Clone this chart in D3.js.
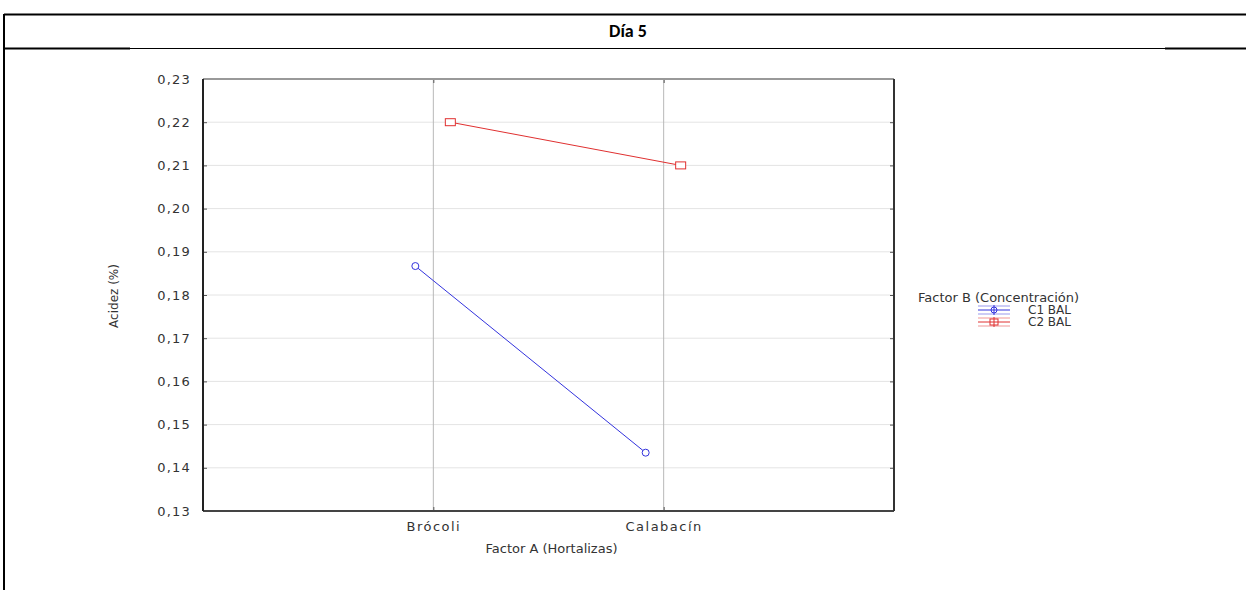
<!DOCTYPE html>
<html>
<head>
<meta charset="utf-8">
<script src="https://cdn.jsdelivr.net/npm/d3@7"></script>
<style>
  body { margin: 0; background: #fff; }
  svg { display: block; }
</style>
</head>
<body>
<svg></svg>
<script>
const width = 1246;
const height = 590;

// datos
const categories = ["Brócoli", "Calabacín"];
const seriesNames = ["C1 BAL", "C2 BAL"];
const c1Values = [0.1867, 0.1435];
const c2Values = [0.220, 0.210];
const yTicks = [0.13, 0.14, 0.15, 0.16, 0.17, 0.18, 0.19, 0.20, 0.21, 0.22, 0.23];
const colors = ["#3333dd", "#e03030"];

const plot = { left: 203, top: 79, right: 894, bottom: 511 };
const font = "'DejaVu Sans', Verdana, sans-serif";

let svg = d3.select("svg")
    .attr("width", width)
    .attr("height", height);

// marco de la tabla
svg.append("line").attr("x1", 4).attr("x2", width).attr("y1", 14.5).attr("y2", 14.5)
    .attr("stroke", "#000").attr("stroke-width", 2);
svg.append("line").attr("x1", 4).attr("x2", 4).attr("y1", 14).attr("y2", height)
    .attr("stroke", "#000").attr("stroke-width", 2);
svg.append("line").attr("x1", 4).attr("x2", 130).attr("y1", 48.5).attr("y2", 48.5)
    .attr("stroke", "#000").attr("stroke-width", 2);
svg.append("line").attr("x1", 130).attr("x2", 1165).attr("y1", 48.5).attr("y2", 48.5)
    .attr("stroke", "#000").attr("stroke-width", 1);
svg.append("line").attr("x1", 1165).attr("x2", width).attr("y1", 48.5).attr("y2", 48.5)
    .attr("stroke", "#000").attr("stroke-width", 2);

svg.append("text")
    .attr("x", 628).attr("y", 37)
    .attr("text-anchor", "middle")
    .style("font-family", "Calibri, Carlito, 'Open Sans', sans-serif")
    .style("font-weight", "bold")
    .style("font-size", "18px")
    .text("Día 5");

// escalas
let scaleX = d3.scalePoint()
    .domain(categories)
    .range([plot.left, plot.right])
    .padding(1);
let scaleY = d3.scaleLinear()
    .domain([0.13, 0.23])
    .range([plot.bottom, plot.top]);

const fmt = d => d3.format(".2f")(d).replace(".", ",");

// rejilla
svg.append("g")
    .selectAll("line")
    .data(yTicks.slice(1, -1))
    .enter()
    .append("line")
    .attr("x1", plot.left).attr("x2", plot.right)
    .attr("y1", d => scaleY(d)).attr("y2", d => scaleY(d))
    .attr("stroke", "#e4e4e4");
svg.append("g")
    .selectAll("line")
    .data(categories)
    .enter()
    .append("line")
    .attr("x1", d => scaleX(d)).attr("x2", d => scaleX(d))
    .attr("y1", plot.top).attr("y2", plot.bottom)
    .attr("stroke", "#b8b8b8");

// ejes
let axisY = d3.axisLeft(scaleY).tickValues(yTicks).tickFormat(fmt).tickSize(-4).tickPadding(12);
let gY = svg.append("g").attr("transform", `translate(${plot.left},0)`).call(axisY);
gY.select(".domain").remove();
gY.selectAll("line").attr("stroke", "#555");
gY.selectAll("text")
    .style("font-family", font)
    .style("font-size", "13px")
    .style("letter-spacing", "1.2px")
    .attr("fill", "#333");

let axisR = d3.axisRight(scaleY).tickValues(yTicks).tickFormat("").tickSize(-4);
let gR = svg.append("g").attr("transform", `translate(${plot.right},0)`).call(axisR);
gR.select(".domain").remove();
gR.selectAll("line").attr("stroke", "#555");

let axisT = d3.axisTop(scaleX).tickFormat("").tickSize(-4);
let gT = svg.append("g").attr("transform", `translate(0,${plot.top})`).call(axisT);
gT.select(".domain").remove();
gT.selectAll("line").attr("stroke", "#555");

let axisX = d3.axisBottom(scaleX).tickSize(-4).tickPadding(11);
let gX = svg.append("g").attr("transform", `translate(0,${plot.bottom})`).call(axisX);
gX.select(".domain").remove();
gX.selectAll("line").attr("stroke", "#555");
gX.selectAll("text")
    .style("font-family", font)
    .style("font-size", "13px")
    .style("letter-spacing", "1.5px")
    .attr("fill", "#333");

// marco del grafico
svg.append("line").attr("x1", plot.left).attr("x2", plot.right).attr("y1", plot.top).attr("y2", plot.top)
    .attr("stroke", "#999").attr("stroke-width", 2);
svg.append("line").attr("x1", plot.left).attr("x2", plot.right).attr("y1", plot.bottom).attr("y2", plot.bottom)
    .attr("stroke", "#444").attr("stroke-width", 2);
svg.append("line").attr("x1", plot.left).attr("x2", plot.left).attr("y1", plot.top).attr("y2", plot.bottom)
    .attr("stroke", "#222").attr("stroke-width", 2);
svg.append("line").attr("x1", plot.right).attr("x2", plot.right).attr("y1", plot.top).attr("y2", plot.bottom)
    .attr("stroke", "#333").attr("stroke-width", 2);

// titulos de ejes
svg.append("text")
    .attr("x", (plot.left + plot.right) / 2 + 3).attr("y", 553)
    .attr("text-anchor", "middle")
    .style("font-family", font)
    .style("font-size", "13px")
    .attr("fill", "#333")
    .text("Factor A (Hortalizas)");
svg.append("text")
    .attr("transform", "translate(118,296) rotate(-90)")
    .attr("text-anchor", "middle")
    .style("font-family", font)
    .style("font-size", "12px")
    .attr("fill", "#333")
    .text("Acidez (%)");

// series
const seriesData = [c1Values, c2Values];
const offsets = [-18, 17];
seriesData.forEach((vals, i) => {
    let pts = categories.map((c, j) => [scaleX(c) + offsets[i], scaleY(vals[j])]);
    svg.append("path")
        .attr("d", d3.line()(pts))
        .attr("fill", "none")
        .attr("stroke", colors[i])
        .attr("stroke-width", 1);
    if (i === 0) {
        svg.selectAll(".dotc1")
            .data(pts)
            .enter()
            .append("circle")
            .attr("cx", d => d[0]).attr("cy", d => d[1])
            .attr("r", 3.5)
            .attr("fill", "#fff")
            .attr("stroke", colors[i]);
    } else {
        svg.selectAll(".dotc2")
            .data(pts)
            .enter()
            .append("rect")
            .attr("x", d => d[0] - 5).attr("y", d => d[1] - 3.5)
            .attr("width", 10).attr("height", 7)
            .attr("fill", "#fff")
            .attr("stroke", colors[i]);
    }
});

// leyenda
svg.append("text")
    .attr("x", 918).attr("y", 302)
    .style("font-family", font)
    .style("font-size", "13px")
    .attr("fill", "#333")
    .text("Factor B (Concentración)");

let leg = svg.append("g")
    .selectAll("g")
    .data(seriesNames)
    .enter()
    .append("g")
    .attr("transform", (d, i) => `translate(0,${310 + i * 12})`);
leg.append("line")
    .attr("x1", 978).attr("x2", 1010).attr("y1", -4).attr("y2", -4)
    .attr("stroke", (d, i) => colors[i]).attr("stroke-opacity", 0.5);
leg.append("line")
    .attr("x1", 978).attr("x2", 1010).attr("y1", 4).attr("y2", 4)
    .attr("stroke", (d, i) => colors[i]).attr("stroke-opacity", 0.5);
leg.append("line")
    .attr("x1", 978).attr("x2", 1010).attr("y1", 0).attr("y2", 0)
    .attr("stroke", (d, i) => colors[i]);
leg.append("line")
    .attr("x1", 994).attr("x2", 994).attr("y1", -5).attr("y2", 5)
    .attr("stroke", (d, i) => colors[i]);
leg.filter((d, i) => i === 0).append("circle")
    .attr("cx", 994).attr("cy", 0).attr("r", 3)
    .attr("fill", "none").attr("stroke", colors[0]);
leg.filter((d, i) => i === 1).append("rect")
    .attr("x", 990).attr("y", -3).attr("width", 8).attr("height", 6)
    .attr("fill", "none").attr("stroke", colors[1]);
leg.append("text")
    .attr("x", 1028).attr("y", 4)
    .style("font-family", font)
    .style("font-size", "12px")
    .attr("fill", "#333")
    .text(d => d);
</script>
</body>
</html>
